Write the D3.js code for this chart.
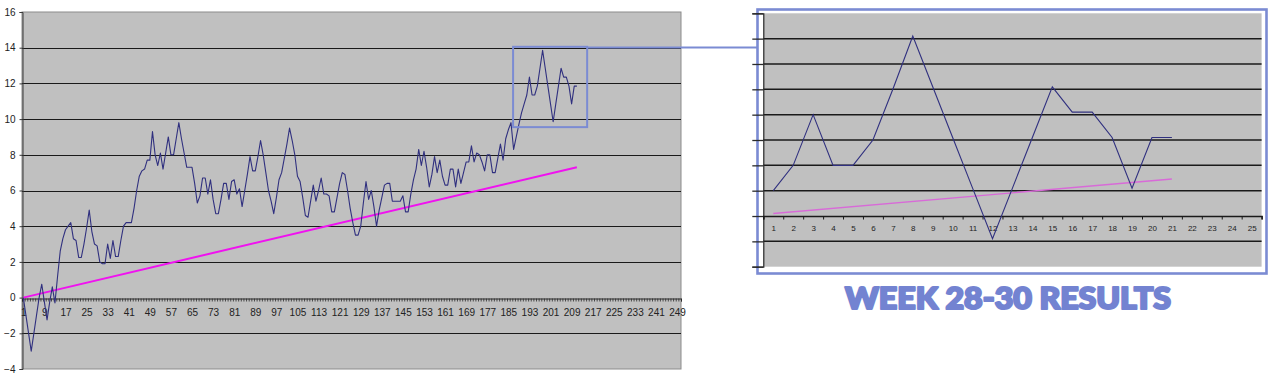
<!DOCTYPE html>
<html>
<head>
<meta charset="utf-8">
<script src="https://cdn.jsdelivr.net/npm/d3@7"></script>
<style>
  html, body { margin: 0; padding: 0; background: #fff; }
  svg { display: block; }
</style>
</head>
<body>
<svg id="chart" width="1280" height="374"></svg>
<script>
// ---------- DATA ----------
const categoryCount = 250;
const xTickLabels = [1, 9, 17, 25, 33, 41, 49, 57, 65, 73, 81, 89, 97, 105, 113, 121, 129, 137, 145, 153, 161, 169, 177, 185, 193, 201, 209, 217, 225, 233, 241, 249];
const yTickLabels = [16, 14, 12, 10, 8, 6, 4, 2, 0, -2, -4];

const mainValues = [
  0, -1, -2, -3, -2, -1, 0, 0.75, -0.25, -1.25,
  -0.25, 0.6, -0.3, 1.2, 2.6, 3.3, 3.8, 4.0, 4.2, 3.3,
  3.2, 2.25, 2.25, 3.0, 3.9, 4.9, 3.7, 3.0, 2.9, 2.0,
  1.9, 1.9, 3.0, 2.2, 3.2, 2.3, 2.3, 3.2, 4.0, 4.2,
  4.2, 4.2, 5.0, 6.0, 6.8, 7.1, 7.2, 7.7, 7.7, 9.3,
  8.0, 7.4, 8.1, 7.2, 8.1, 9.0, 8.0, 8.0, 8.9, 9.8,
  8.9, 8.1, 7.3, 7.3, 7.3, 6.4, 5.3, 5.7, 6.7, 6.7,
  5.8, 6.6, 5.5, 4.7, 4.7, 5.5, 6.4, 6.4, 5.5, 6.5,
  6.6, 5.8, 6.1, 5.1, 6.0, 6.9, 7.9, 7.1, 7.1, 7.9,
  8.8, 8.0, 7.0, 6.0, 5.4, 4.7, 5.6, 6.6, 7.0, 7.8,
  8.6, 9.5, 8.8, 8.0, 6.8, 6.5, 5.6, 4.6, 4.5, 5.4,
  6.3, 5.4, 6.0, 6.7, 5.8, 5.8, 5.7, 4.8, 4.8, 5.6,
  6.4, 7.0, 6.9, 6.0, 5.0, 4.2, 3.5, 3.5, 4.0, 5.3,
  6.5, 5.5, 6.0, 5.1, 4.0, 4.9, 5.6, 6.3, 6.4, 6.4,
  5.4, 5.4, 5.4, 5.4, 5.7, 4.8, 4.8, 5.8, 6.6, 7.2,
  8.3, 7.4, 8.2, 7.3, 6.2, 6.9, 7.9, 7.0, 7.7, 6.8,
  6.3, 6.3, 7.2, 7.2, 6.2, 7.2, 6.4, 7.0, 7.6, 7.6,
  8.5, 7.6, 8.1, 8.0, 7.6, 7.1, 8.0, 8.0, 7.0, 7.0,
  7.8, 8.6, 7.7, 8.9, 9.4, 9.8, 8.3, 9.0, 9.7, 10.35,
  10.85, 11.35, 12.35, 11.35, 11.35, 11.85, 12.85, 13.85, 12.85, 11.85,
  10.85, 9.85, 10.85, 11.85, 12.85, 12.35, 12.35, 11.85, 10.85, 11.85, 11.85
];
const mainTrend = [0, 7.3];            // trend line value at first and last point

const zoomBoxCats = [186.8, 214.9];    // highlighted region (categories)
const zoomBoxVals = [9.55, 14.05];     // highlighted region (values)

const insetCategoryCount = 25;
const insetTickLabels = [1,2,3,4,5,6,7,8,9,10,11,12,13,14,15,16,17,18,19,20,21,22,23,24,25];
const insetValues = [0.5, 1, 2, 1, 1, 1.5, 2.5, 3.55, 2.55, 1.55, 0.55, -0.45, 0.55, 1.55, 2.55, 2.05, 2.05, 1.55, 0.55, 1.55, 1.55];
const insetTrend = [0.05, 0.73];
const insetGridValues = [-0.5, 0.5, 1, 1.5, 2, 2.5, 3, 3.5];

const titleText = "WEEK 28-30 RESULTS";

// ---------- STYLE ----------
const plotBg = "#c0c0c0";
const gridColor = "#1a1a1a";
const navy = "#30307f";
const magenta = "#f012f0";
const accent = "#7b8bd3";
const labelFont = "'Liberation Sans', Arial, sans-serif";

const svg = d3.select("#chart");

// ---------- MAIN CHART ----------
const M = { left: 22, right: 681, top: 12, bottom: 369 };
const x = d3.scaleLinear().domain([0.5, categoryCount + 0.5]).range([M.left, M.right]);
const y = d3.scaleLinear().domain([-4, 16]).range([M.bottom, M.top]);

const main = svg.append("g");
main.append("rect")
  .attr("x", M.left).attr("y", M.top)
  .attr("width", M.right - M.left).attr("height", M.bottom - M.top)
  .attr("fill", plotBg).attr("stroke", "#8c8c8c").attr("stroke-width", 1);

main.append("g").selectAll("line")
  .data(yTickLabels.filter(v => v !== 16 && v !== -4 && v !== 0))
  .join("line")
  .attr("x1", M.left).attr("x2", M.right)
  .attr("y1", d => Math.round(y(d)) + 0.5).attr("y2", d => Math.round(y(d)) + 0.5)
  .attr("stroke", gridColor).attr("stroke-width", 1);

const yAxis = main.append("g")
  .attr("transform", `translate(${M.left + 0.5},0)`)
  .call(d3.axisLeft(y).tickValues(yTickLabels).tickSize(3).tickPadding(4).tickFormat(d3.format("d")));
yAxis.select(".domain").attr("stroke", "#3a3a3a");
yAxis.selectAll(".tick line").attr("stroke", "#3a3a3a");
yAxis.selectAll("text").attr("font-family", labelFont).attr("font-size", 10).attr("fill", "#222");

const y0 = Math.round(y(0)) + 0.5;
const xAxisTicks = main.append("g")
  .attr("transform", `translate(0,${y0})`)
  .call(d3.axisBottom(x).tickValues(d3.range(0.5, categoryCount + 1, 1)).tickSize(3).tickFormat(""));
xAxisTicks.select(".domain").attr("stroke", "#2a2a2a");
xAxisTicks.selectAll(".tick line").attr("stroke", "#2a2a2a").attr("stroke-width", 0.8);

const xAxisLabels = main.append("g")
  .attr("transform", `translate(0,${y0})`)
  .call(d3.axisBottom(x).tickValues(xTickLabels).tickSize(0).tickPadding(10).tickFormat(d3.format("d")));
xAxisLabels.select(".domain").remove();
xAxisLabels.selectAll("text").attr("font-family", labelFont).attr("font-size", 10).attr("fill", "#222");

main.append("line")
  .attr("x1", x(1)).attr("y1", y(mainTrend[0]))
  .attr("x2", x(mainValues.length)).attr("y2", y(mainTrend[1]))
  .attr("stroke", magenta).attr("stroke-width", 2);

main.append("path")
  .datum(mainValues)
  .attr("fill", "none").attr("stroke", navy).attr("stroke-width", 1.1)
  .attr("stroke-linejoin", "round")
  .attr("d", d3.line().x((d, i) => x(i + 1)).y(d => y(d)));

const bx0 = x(zoomBoxCats[0]), bx1 = x(zoomBoxCats[1]);
const by0 = y(zoomBoxVals[1]), by1 = y(zoomBoxVals[0]);
main.append("rect")
  .attr("x", bx0).attr("y", by0).attr("width", bx1 - bx0).attr("height", by1 - by0)
  .attr("fill", "none").attr("stroke", accent).attr("stroke-width", 2);

// ---------- INSET ----------
const I = { left: 763.3, right: 1261.6, top: 13.3, bottom: 266.7 };
const xi = d3.scaleLinear().domain([0.5, insetCategoryCount + 0.5]).range([I.left, I.right]);
const yi = d3.scaleLinear().domain([-1, 4]).range([I.bottom, I.top]);

main.append("line")
  .attr("x1", bx1).attr("y1", by0 + 0.8).attr("x2", 758).attr("y2", by0 + 0.8)
  .attr("stroke", accent).attr("stroke-width", 2);

const inset = svg.append("g");
inset.append("rect")
  .attr("x", 757.5).attr("y", 9.5).attr("width", 509).attr("height", 264)
  .attr("fill", "#fff").attr("stroke", accent).attr("stroke-width", 2.6);

inset.append("rect")
  .attr("x", I.left).attr("y", I.top)
  .attr("width", I.right - I.left).attr("height", I.bottom - I.top)
  .attr("fill", plotBg);

inset.append("g").selectAll("line")
  .data(insetGridValues)
  .join("line")
  .attr("x1", I.left).attr("x2", I.right)
  .attr("y1", d => yi(d)).attr("y2", d => yi(d))
  .attr("stroke", gridColor).attr("stroke-width", 1.5);

const yiAxis = inset.append("g")
  .attr("transform", `translate(${I.left},0)`)
  .call(d3.axisLeft(yi).tickValues(d3.range(-1, 4.01, 0.5)).tickSize(11).tickFormat(""));
yiAxis.select(".domain").attr("stroke", "#2a2a2a").attr("stroke-width", 1.2);
yiAxis.selectAll(".tick line").attr("stroke", "#2a2a2a").attr("stroke-width", 1.3);

const xiAxis = inset.append("g")
  .attr("transform", `translate(0,${yi(0)})`)
  .call(d3.axisBottom(xi).tickValues(d3.range(0.5, insetCategoryCount + 1, 1)).tickSize(3.5).tickFormat(""));
xiAxis.select(".domain").attr("stroke", "#1a1a1a").attr("stroke-width", 1.5);
xiAxis.selectAll(".tick line").attr("stroke", "#1a1a1a");

const xiLabels = inset.append("g")
  .attr("transform", `translate(0,${yi(0)})`)
  .call(d3.axisBottom(xi).tickValues(insetTickLabels).tickSize(0).tickPadding(9).tickFormat(d3.format("d")));
xiLabels.select(".domain").remove();
xiLabels.selectAll("text").attr("font-family", labelFont).attr("font-size", 8).attr("fill", "#222");

inset.append("line")
  .attr("x1", xi(1)).attr("y1", yi(insetTrend[0]))
  .attr("x2", xi(insetValues.length)).attr("y2", yi(insetTrend[1]))
  .attr("stroke", "#d86ad8").attr("stroke-width", 1.4);

inset.append("path")
  .datum(insetValues)
  .attr("fill", "none").attr("stroke", navy).attr("stroke-width", 1.1)
  .attr("d", d3.line().x((d, i) => xi(i + 1)).y(d => yi(d)));

// ---------- TITLE ----------
svg.append("text")
  .attr("x", 1008).attr("y", 309)
  .attr("text-anchor", "middle")
  .attr("font-family", "Lato, 'Open Sans', sans-serif")
  .attr("font-weight", 900)
  .attr("font-size", 30)
  .attr("textLength", 326)
  .attr("lengthAdjust", "spacingAndGlyphs")
  .attr("fill", "#7383d1")
  .attr("stroke", "#7383d1")
  .attr("stroke-width", 2.2)
  .attr("stroke-linejoin", "round")
  .text(titleText);
</script>
</body>
</html>
